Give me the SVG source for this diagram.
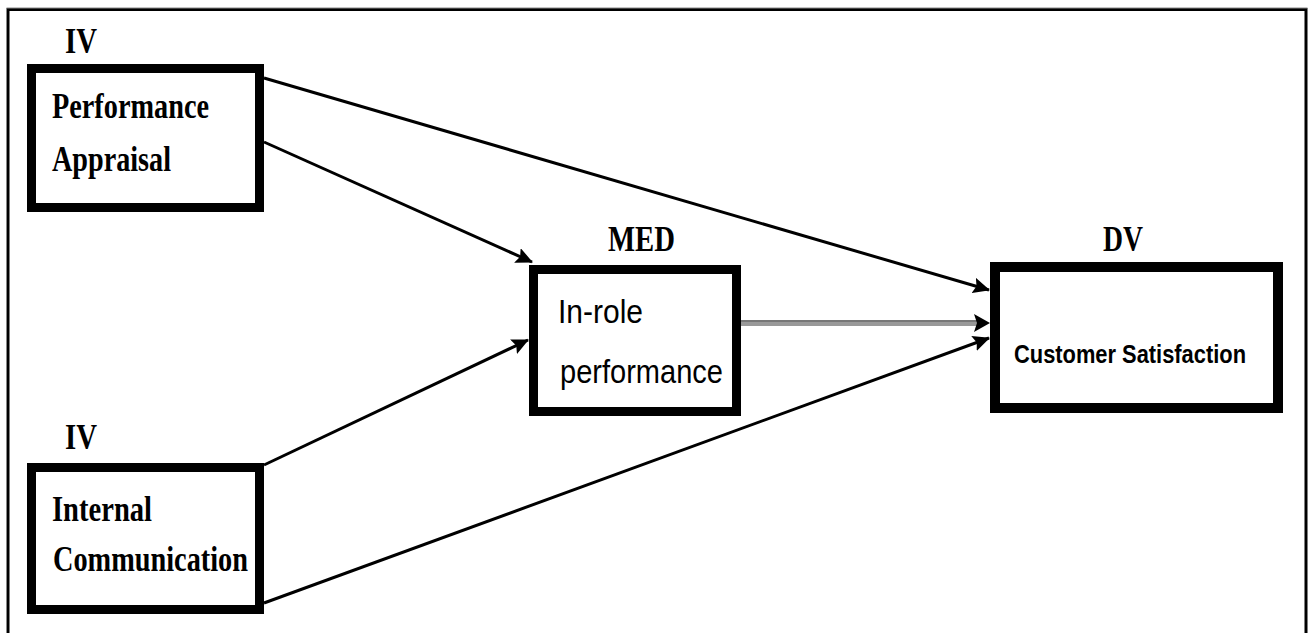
<svg xmlns="http://www.w3.org/2000/svg" width="1308" height="633" viewBox="0 0 1308 633">
<style>
.box{fill:#fff;stroke:#000;stroke-width:9}
.serif{font-family:"Liberation Serif","Times New Roman",serif;font-weight:bold;fill:#000}
.sans{font-family:"Liberation Sans",Arial,sans-serif;fill:#000}
.conn{stroke:#000;stroke-width:3;fill:none}
</style>
<defs>
<marker id="ah" markerUnits="userSpaceOnUse" markerWidth="17" markerHeight="16" refX="16" refY="8" orient="auto">
<path d="M0,0 L17,8 L0,16 L3,8 Z" fill="#000"/>
</marker>
</defs>
<rect width="1308" height="633" fill="#fff"/>
<path d="M8,640 L8,9.5 L1306,9.5 L1306,640" fill="none" stroke="#000" stroke-width="3"/>
<path d="M6.5,640 L6.5,8 L1307.5,8" fill="none" stroke="#888" stroke-width="1"/>

<g id="connectors">
<line class="conn" x1="264" y1="78" x2="989" y2="290" marker-end="url(#ah)"/>
<line class="conn" x1="264" y1="142" x2="532" y2="262" marker-end="url(#ah)"/>
<line class="conn" x1="264" y1="465" x2="528" y2="340" marker-end="url(#ah)"/>
<line x1="741" y1="323" x2="978" y2="323" stroke="#999" stroke-width="6"/>
<line x1="741" y1="321" x2="978" y2="321" stroke="#777" stroke-width="2"/>
<path d="M974,314 L990,323 L974,332 L977,323 Z" fill="#000"/>
<line class="conn" x1="264" y1="603" x2="989" y2="338" marker-end="url(#ah)"/>
</g>

<g id="pa">
<text class="serif" x="65" y="53" font-size="36" textLength="32" lengthAdjust="spacingAndGlyphs">IV</text>
<rect class="box" x="31.5" y="68.5" width="228" height="139"/>
<text class="serif" x="52" y="118" font-size="35" textLength="157" lengthAdjust="spacingAndGlyphs">Performance</text>
<text class="serif" x="52" y="171" font-size="35" textLength="119" lengthAdjust="spacingAndGlyphs">Appraisal</text>
</g>

<g id="ic">
<text class="serif" x="65" y="449" font-size="36" textLength="32" lengthAdjust="spacingAndGlyphs">IV</text>
<rect class="box" x="31.5" y="467.5" width="228" height="142"/>
<text class="serif" x="52" y="521" font-size="35" textLength="100" lengthAdjust="spacingAndGlyphs">Internal</text>
<text class="serif" x="53" y="571" font-size="35" textLength="195" lengthAdjust="spacingAndGlyphs">Communication</text>
</g>

<g id="med">
<text class="serif" x="608" y="251" font-size="36" textLength="67" lengthAdjust="spacingAndGlyphs">MED</text>
<rect class="box" x="533.5" y="269.5" width="203" height="142"/>
<text class="sans" x="558" y="323" font-size="34" textLength="85" lengthAdjust="spacingAndGlyphs">In-role</text>
<text class="sans" x="560" y="383" font-size="34" textLength="163" lengthAdjust="spacingAndGlyphs">performance</text>
</g>

<g id="dv">
<text class="serif" x="1103" y="251" font-size="36" textLength="40" lengthAdjust="spacingAndGlyphs">DV</text>
<rect class="box" x="995" y="267" width="283" height="141" style="stroke-width:10"/>
<text class="sans" x="1014" y="363" font-size="26" font-weight="bold" textLength="232" lengthAdjust="spacingAndGlyphs">Customer Satisfaction</text>
</g>
</svg>
